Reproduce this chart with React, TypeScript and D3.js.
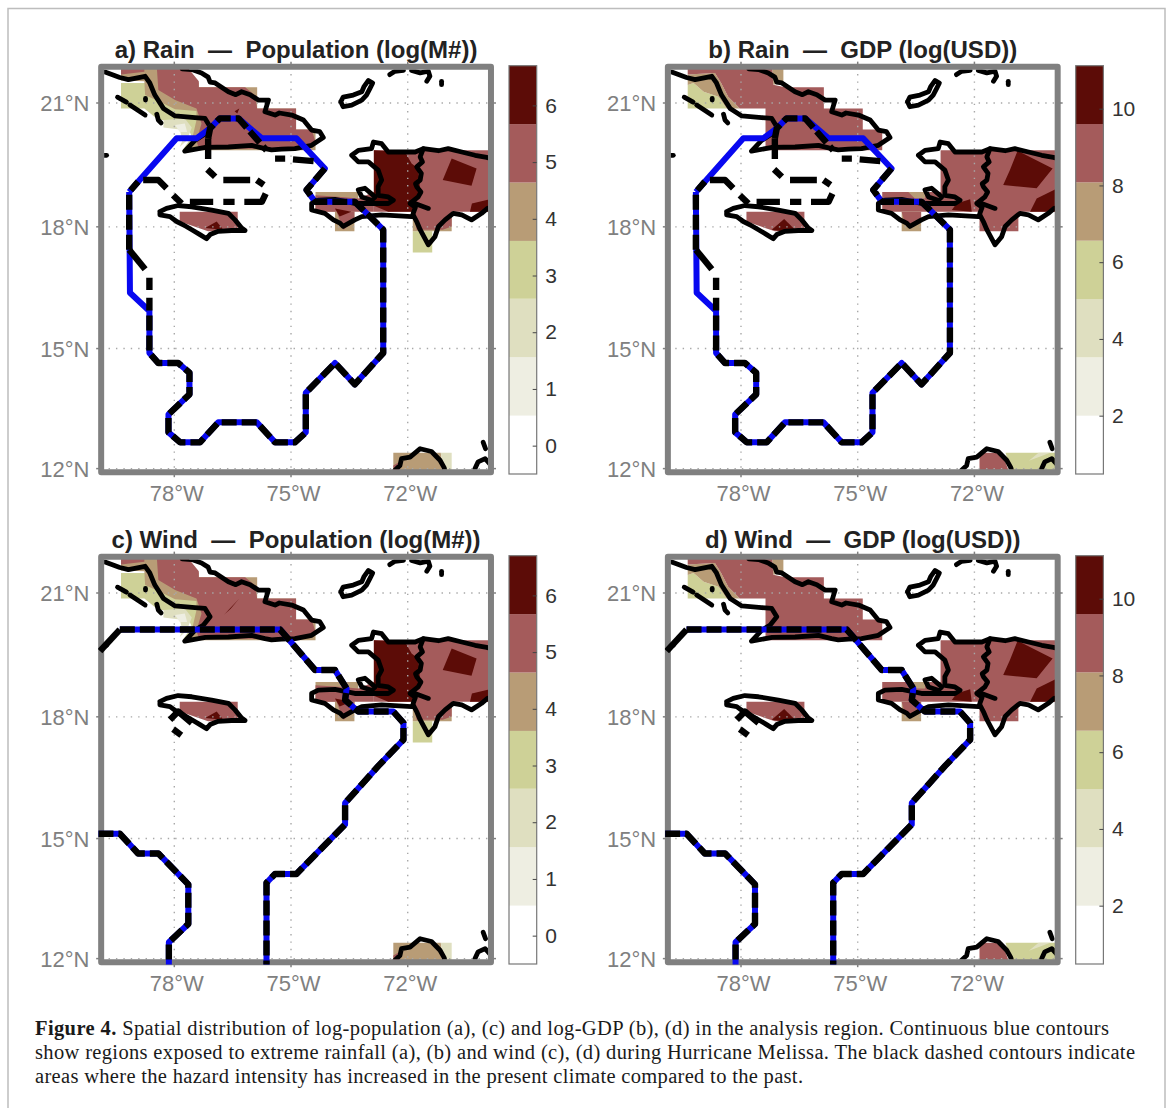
// App.tsx - four panel exposure maps with colorbars
import React, { useEffect, useRef } from "react";
import * as d3 from "d3";

type Pt = [number, number];
type Band = [number, Pt[]];

const WIDTH = 1167;
const HEIGHT = 1108;

const lonTicks = [-78, -75, -72];
const latTicks = [21, 18, 15, 12];
const lonBounds = [-79.88, -69.86];
const latBounds = [11.91, 21.87];

const bandColors = ["#ffffff", "#eeeee2", "#dfdfc0", "#ced197", "#b89c76", "#a45b5b", "#5c0c07"];
const popLevels = [-0.5, 0.53, 1.56, 2.59, 3.61, 4.64, 5.67, 6.7];
const gdpLevels = [0.48, 2, 3.52, 5.04, 6.56, 8.08, 9.6, 11.12];
const popTicks = [0, 1, 2, 3, 4, 5, 6];
const gdpTicks = [2, 4, 6, 8, 10];

// coastlines, lon/lat
const cuba: Pt[] = [[-79.78,21.74],[-79.40,21.61],[-79.18,21.56],[-78.75,21.64],[-78.63,21.48],[-78.50,21.19],[-78.28,20.87],[-77.98,20.69],[-77.47,20.65],[-77.21,20.63],[-77.08,20.43],[-77.25,20.23],[-77.47,20.10],[-77.73,19.84],[-77.2,19.93],[-76.61,19.94],[-76.01,19.98],[-75.67,19.90],[-75.5,19.87],[-75.24,19.89],[-74.90,19.90],[-74.47,19.98],[-74.17,20.17],[-74.26,20.31],[-74.47,20.35],[-74.68,20.59],[-74.98,20.71],[-75.30,20.76],[-75.41,20.71],[-75.67,20.79],[-75.62,20.95],[-75.58,21.07],[-75.84,21.07],[-76.05,21.2],[-76.27,21.27],[-76.42,21.2],[-76.61,21.27],[-76.95,21.48],[-77.08,21.5],[-77.13,21.62],[-77.30,21.72],[-77.55,21.80],[-77.8,21.82]];
const jamaica: Pt[] = [[-78.37,18.37],[-78.20,18.45],[-77.90,18.52],[-77.55,18.49],[-77.04,18.41],[-76.61,18.33],[-76.44,18.17],[-76.27,17.97],[-76.18,17.91],[-76.53,17.91],[-76.87,17.89],[-77.08,17.81],[-77.17,17.71],[-77.34,17.81],[-77.55,17.93],[-77.77,18.05],[-77.94,18.13],[-78.11,18.25],[-78.37,18.29],[-78.37,18.37]];
const hispaniola: Pt[] = [[-69.7,19.62],[-69.97,19.69],[-70.27,19.74],[-70.61,19.82],[-70.96,19.90],[-71.21,19.85],[-71.60,19.90],[-71.81,19.82],[-72.50,19.82],[-72.67,20.02],[-72.88,20.06],[-72.93,19.90],[-73.27,19.86],[-73.44,19.74],[-73.27,19.58],[-73.01,19.58],[-72.76,19.38],[-72.67,19.14],[-72.76,18.98],[-72.76,18.77],[-72.50,18.73],[-72.37,18.65],[-72.50,18.57],[-73.36,18.57],[-73.87,18.67],[-74.30,18.65],[-74.47,18.57],[-74.47,18.41],[-74.13,18.33],[-73.91,18.17],[-73.74,18.09],[-73.66,18.01],[-73.36,18.17],[-73.18,18.25],[-72.67,18.29],[-71.90,18.25],[-71.86,18.29],[-71.77,18.13],[-71.68,17.93],[-71.47,17.56],[-71.30,17.76],[-71.21,18.01],[-71.04,18.17],[-70.83,18.33],[-70.61,18.29],[-70.36,18.17],[-70.10,18.33],[-69.95,18.45],[-69.7,18.5]];
const haitiBorder: Pt[] = [[-71.60,19.90],[-71.68,19.70],[-71.62,19.58],[-71.77,19.46],[-71.65,19.30],[-71.68,19.14],[-71.80,19.05],[-71.77,18.98],[-71.66,18.85],[-71.73,18.73],[-71.94,18.57],[-71.80,18.48],[-71.86,18.33]];
const enriquillo: Pt[] = [[-71.85,18.58],[-71.47,18.45]];
const gonave: Pt[] = [[-73.27,18.90],[-73.10,18.94],[-72.84,18.73],[-72.93,18.65],[-73.18,18.73],[-73.27,18.90]];
const inagua: Pt[] = [[-73.72,21.03],[-73.66,21.14],[-73.40,21.19],[-73.18,21.27],[-73.12,21.40],[-73.01,21.54],[-72.90,21.48],[-72.97,21.35],[-73.06,21.19],[-73.18,21.07],[-73.44,20.95],[-73.66,20.91],[-73.72,21.03]];
const caicos: Pt[] = [[-72.46,21.68],[-72.33,21.76],[-72.11,21.78]];
const turks: Pt[] = [[-71.90,21.78],[-71.68,21.72],[-71.47,21.76],[-71.43,21.64],[-71.51,21.52]];
const grandTurk: Pt[] = [[-71.13,21.52],[-71.13,21.44]];
const jardinesA: Pt[] = [[-79.46,21.14],[-79.23,21.02]];
const jardinesB: Pt[] = [[-79.14,20.95],[-78.75,20.71]];
const cayA: Pt[] = [[-78.74,21.11],[-78.74,21.07]];
const cayB: Pt[] = [[-78.45,20.73],[-78.41,20.59],[-78.34,20.52]];
const cayman: Pt[] = [[-79.80,19.74],[-79.74,19.74]];
const guajira: Pt[] = [[-72.33,11.96],[-72.20,12.08],[-72.16,12.25],[-71.94,12.29],[-71.68,12.50],[-71.39,12.43],[-71.17,12.21],[-71.06,12.02],[-71.03,11.85]];
const paraguana: Pt[] = [[-70.27,12.00],[-70.19,12.17],[-70.01,12.25],[-69.89,12.12]];
const aruba: Pt[] = [[-70.06,12.66],[-70.00,12.50]];
const coasts = [cuba, jamaica, hispaniola, haitiBorder, enriquillo, gonave, inagua, caicos, turks, grandTurk, jardinesA, jardinesB, cayA, cayB, cayman, guajira, paraguana, aruba];

// shaded bands: [band index, ring], painted in order
const popBands: Band[] = [
  [3, [[-79.37,21.48],[-79.37,20.87],[-78.77,20.87],[-78.41,20.59],[-77.73,20.59],[-77.55,20.19],[-77.79,19.86],[-77.37,19.86],[-77.37,20.87],[-78.28,21.19],[-78.75,21.48]]],
  [2, [[-78.28,20.59],[-77.73,20.63],[-77.55,20.41],[-77.68,20.10],[-77.86,19.94],[-77.79,20.10],[-77.86,20.36],[-78.28,20.41]]],
  [1, [[-77.98,20.47],[-77.73,20.51],[-77.67,20.3],[-77.86,20.3]]],
  [4, [[-79.37,22],[-77.79,22],[-77.37,21.48],[-77.37,21.38],[-75.87,21.38],[-75.87,20.87],[-74.87,20.87],[-74.87,20.36],[-74.37,20.36],[-74.37,19.86],[-77.73,19.86],[-77.55,20.10],[-77.43,20.59],[-77.43,20.81],[-77.98,20.85],[-78.28,20.99],[-78.75,21.19],[-78.77,21.52],[-79.37,21.54]]],
  [5, [[-79.37,22],[-78.77,22],[-78.77,21.75],[-79.37,21.68]]],
  [5, [[-78.46,22],[-77.79,22],[-77.37,21.52],[-77.37,21.38],[-76.18,21.38],[-75.93,21.19],[-75.87,20.87],[-74.87,20.87],[-74.87,20.36],[-74.47,20.36],[-74.37,20.06],[-74.82,19.90],[-77.37,19.90],[-77.43,20.10],[-77.30,20.51],[-77.43,20.87],[-77.98,21.07],[-78.41,21.31]]],
  [3, [[-71.87,17.89],[-71.37,17.89],[-71.37,17.37],[-71.87,17.37]]],
  [4, [[-71.87,18.37],[-70.87,18.37],[-70.87,17.89],[-71.87,17.89]]],
  [4, [[-74.37,18.85],[-73.27,18.85],[-73.27,18.69],[-73.37,18.37],[-74.37,18.37]]],
  [4, [[-73.87,18.37],[-73.37,18.37],[-73.37,17.89],[-73.87,17.89]]],
  [5, [[-72.87,19.86],[-69.8,19.86],[-69.8,18.37],[-70.87,18.37],[-70.87,18.01],[-71.10,17.93],[-71.77,17.93],[-71.87,18.37],[-72.87,18.37]]],
  [5, [[-74.37,18.77],[-73.70,18.73],[-73.27,18.69],[-72.87,18.85],[-72.87,18.37],[-74.37,18.37]]],
  [5, [[-73.83,18.37],[-73.37,18.37],[-73.37,18.13],[-73.65,17.93]]],
  [6, [[-72.87,19.86],[-72.07,19.82],[-71.90,19.54],[-71.73,19.42],[-71.68,18.9],[-71.87,18.37],[-72.50,18.37],[-73.01,18.57],[-72.87,18.81]]],
  [6, [[-70.87,19.66],[-70.23,19.42],[-70.36,19.0],[-71.10,19.14]]],
  [6, [[-70.40,18.37],[-70.35,18.57],[-69.8,18.69],[-69.8,18.37]]],
  [6, [[-73.87,18.45],[-73.45,18.37],[-73.75,18.25]]],
  [5, [[-77.86,18.37],[-76.37,18.37],[-76.37,17.93],[-76.87,17.89],[-77.13,17.89],[-77.86,18.13]]],
  [6, [[-77.21,17.97],[-76.91,18.13],[-76.74,17.93]]],
  [4, [[-72.37,12.40],[-71.15,12.40],[-71.06,11.8],[-72.37,11.8]]],
  [2, [[-71.15,12.40],[-70.87,12.40],[-70.87,11.8],[-71.06,11.8]]],
  [5, [[-72.37,12.08],[-72.20,12.17],[-72.20,11.8],[-72.37,11.8]]],
];
const streakRain: Band[] = [[6, [[-76.45,20.8],[-76.33,20.87],[-76.38,20.75]]]];
const streakWind: Band[] = [[6, [[-76.72,20.48],[-76.33,20.87],[-76.55,20.62]]]];

const gdpBands: Band[] = [
  [3, [[-79.37,21.43],[-79.37,20.87],[-78.37,20.87],[-78.58,21.15],[-78.96,21.27],[-79.22,21.48]]],
  [4, [[-79.37,21.68],[-78.67,21.72],[-78.51,21.48],[-78.33,21.15],[-78.03,20.87],[-78.37,20.87],[-78.58,21.15],[-78.96,21.27],[-79.22,21.48],[-79.37,21.43]]],
  [4, [[-77.21,22],[-76.91,22],[-76.91,21.48],[-77.17,21.44]]],
  [5, [[-79.37,22],[-77.21,22],[-77.17,21.44],[-76.87,21.38],[-75.87,21.38],[-75.87,20.87],[-74.87,20.87],[-74.87,20.36],[-74.37,20.36],[-74.37,19.86],[-77.37,19.86],[-77.37,20.87],[-78.03,20.87],[-78.33,21.15],[-78.51,21.48],[-78.67,21.72],[-79.37,21.68]]],
  [5, [[-72.87,19.86],[-69.8,19.86],[-69.8,18.37],[-70.87,18.37],[-70.87,17.89],[-71.87,17.89],[-71.87,18.37],[-74.37,18.37],[-74.37,18.85],[-72.87,18.85]]],
  [4, [[-73.70,18.85],[-73.27,18.85],[-73.27,18.69],[-73.53,18.69]]],
  [4, [[-73.87,18.37],[-73.37,18.37],[-73.37,17.89],[-73.87,17.89]]],
  [5, [[-73.87,18.37],[-73.37,18.37],[-73.37,18.13],[-73.78,18.05]]],
  [6, [[-70.89,19.85],[-69.99,19.42],[-70.40,18.94],[-71.26,19.02],[-71.09,19.38]]],
  [6, [[-69.8,18.97],[-69.8,18.37],[-70.57,18.37],[-70.40,18.69]]],
  [6, [[-72.58,18.41],[-72.46,18.57],[-72.11,18.67],[-72.07,18.37]]],
  [5, [[-77.86,18.37],[-76.37,18.37],[-76.37,17.93],[-76.87,17.89],[-77.13,17.89],[-77.86,18.13]]],
  [6, [[-77.21,17.93],[-76.89,18.19],[-76.61,17.93],[-76.95,17.89]]],
  [3, [[-71.2,12.4],[-69.8,12.4],[-69.8,11.8],[-71.03,11.8]]],
  [5, [[-71.87,12.40],[-71.3,12.4],[-71.06,11.8],[-71.87,11.8]]],
  [2, [[-70.6,12.2],[-70.05,12.4],[-70.35,12.4]]],
];

// exposed area outlines (blue)
const rainExposed: Pt[] = [[-79.16,18.85],[-78.93,19.10],[-77.94,20.15],[-77.43,20.15],[-77.08,20.39],[-76.83,20.63],[-76.35,20.63],[-75.75,20.15],[-74.86,20.15],[-74.13,19.42],[-74.60,18.90],[-74.38,18.61],[-73.36,18.61],[-73.10,18.37],[-72.63,17.93],[-72.63,14.89],[-73.36,14.11],[-73.87,14.64],[-74.62,13.90],[-74.62,12.91],[-74.90,12.66],[-75.41,12.66],[-75.88,13.16],[-76.87,13.16],[-77.34,12.66],[-77.85,12.66],[-78.15,12.91],[-78.15,13.36],[-77.61,13.86],[-77.61,14.40],[-77.90,14.64],[-78.41,14.64],[-78.64,14.89],[-78.64,15.93],[-79.14,16.38],[-79.16,18.85]];
const windExposedEast: Pt[] = [[-79.91,19.60],[-79.40,20.12],[-75.28,20.12],[-74.38,19.14],[-73.87,19.14],[-73.57,18.69],[-73.61,18.41],[-73.27,18.13],[-72.37,18.13],[-72.11,17.85],[-72.11,17.44],[-72.76,16.79],[-73.61,15.88],[-73.61,15.35],[-74.86,14.12],[-75.41,14.12],[-75.63,13.90],[-75.63,11.85]];
const windExposedWest: Pt[] = [[-79.95,15.12],[-79.40,15.12],[-78.93,14.63],[-78.41,14.63],[-77.64,13.86],[-77.64,12.87],[-78.14,12.41],[-78.14,11.85]];

// areas with increased intensity (black dashes): over the blue line, and on their own
const rainIncreaseOverBlue: Pt[][] = [
  [[-74.13,19.42],[-74.60,18.90],[-74.38,18.61],[-73.36,18.61],[-73.10,18.37],[-72.63,17.93],[-72.63,14.89],[-73.36,14.11],[-73.87,14.64],[-74.62,13.90],[-74.62,12.91],[-74.90,12.66],[-75.41,12.66],[-75.88,13.16],[-76.87,13.16],[-77.34,12.66],[-77.85,12.66],[-78.15,12.91],[-78.15,13.36],[-77.61,13.86],[-77.61,14.40],[-77.90,14.64],[-78.41,14.64],[-78.64,14.89],[-78.64,16.26]],
  [[-79.16,17.44],[-79.16,18.85],[-78.93,19.10]],
  [[-77.13,20.15],[-77.08,20.39],[-76.83,20.63],[-76.35,20.63],[-75.63,19.86]],
];
const rainIncreaseAlone: Pt[][] = [
  [[-78.64,16.45],[-78.64,16.75]],
  [[-78.75,16.96],[-79.16,17.44]],
  [[-78.80,19.14],[-78.41,19.14],[-78.20,18.94]],
  [[-78.03,18.77],[-77.81,18.57]],
  [[-77.60,18.61],[-77.00,18.61]],
  [[-76.74,18.61],[-76.45,18.61]],
  [[-76.20,18.61],[-75.75,18.61],[-75.65,18.81]],
  [[-75.70,19.02],[-75.88,19.14]],
  [[-76.05,19.14],[-76.74,19.14]],
  [[-76.95,19.22],[-77.15,19.40]],
  [[-77.13,19.65],[-77.13,20.15]],
  [[-75.41,19.66],[-75.15,19.66]],
  [[-74.95,19.64],[-74.42,19.60]],
];
const windIncreaseOverBlue: Pt[][] = [windExposedEast.slice(1), windExposedWest];
const windIncreaseAlone: Pt[][] = [
  windExposedEast.slice(0, 2),
  [[-78.11,17.93],[-77.90,18.13],[-77.55,17.85]],
  [[-78.03,17.70],[-77.82,17.55]],
];

const bandLayers = (pop: boolean, rain: boolean): Band[] =>
  pop ? popBands.concat(rain ? streakRain : streakWind) : gdpBands;

const panels = [
  { title: "a) Rain — Population (log(M#))", pop: true, rain: true, dx: 0, dy: 0 },
  { title: "b) Rain — GDP (log(USD))", pop: false, rain: true, dx: 566.7, dy: 0 },
  { title: "c) Wind — Population (log(M#))", pop: true, rain: false, dx: 0, dy: 490 },
  { title: "d) Wind — GDP (log(USD))", pop: false, rain: false, dx: 566.7, dy: 490 },
];

const captionLines = [
  { bold: "Figure 4.", text: " Spatial distribution of log-population (a), (c) and log-GDP (b), (d) in the analysis region. Continuous blue contours", len: 1074 },
  { bold: "", text: "show regions exposed to extreme rainfall (a), (b) and wind (c), (d) during Hurricane Melissa. The black dashed contours indicate", len: 1100 },
  { bold: "", text: "areas where the hazard intensity has increased in the present climate compared to the past.", len: 768 },
];

const App = () => {
  const ref = useRef<SVGSVGElement>(null);

  useEffect(() => {
    const svg = d3.select(ref.current);
    svg.selectAll("*").remove();

    svg.append("rect").attr("width", WIDTH).attr("height", HEIGHT).attr("fill", "#fff");
    svg
      .append("rect")
      .attr("x", 8)
      .attr("y", 8.5)
      .attr("width", 1157)
      .attr("height", 1130)
      .attr("fill", "none")
      .attr("stroke", "#bdbdbd")
      .attr("stroke-width", 1.5);

    const projection = d3.geoMercator().scale(2229).center([-78, 21]).translate([174.3, 103]);
    const px = (lon: number) => projection([lon, 21])![0];
    const py = (lat: number) => projection([-78, lat])![1];
    const line = d3
      .line<Pt>()
      .x((d) => projection(d)![0])
      .y((d) => projection(d)![1]);

    const x0 = px(lonBounds[0]);
    const x1 = px(lonBounds[1]);
    const y0 = py(latBounds[1]);
    const y1 = py(latBounds[0]);

    const defs = svg.append("defs");
    const addClip = (id: string, pad: number) =>
      defs
        .append("clipPath")
        .attr("id", id)
        .append("rect")
        .attr("x", x0 - pad)
        .attr("y", y0 - pad)
        .attr("width", x1 - x0 + pad * 2)
        .attr("height", y1 - y0 + pad * 2);
    addClip("clip-frame", 0);
    addClip("clip-inner", -3);
    addClip("clip-outer", 3);

    panels.forEach((p) => {
      const g = svg.append("g").attr("transform", `translate(${p.dx},${p.dy})`);

      g.append("text")
        .attr("x", (x0 + x1) / 2)
        .attr("y", 58)
        .attr("text-anchor", "middle")
        .attr("font-family", "'Liberation Sans', Arial, sans-serif")
        .attr("font-weight", "bold")
        .attr("font-size", 24)
        .attr("fill", "#222")
        .attr("xml:space", "preserve")
        .text(p.title.replace("—", " — "));

      // shaded bands
      g.append("g")
        .attr("clip-path", "url(#clip-frame)")
        .selectAll("path")
        .data(bandLayers(p.pop, p.rain))
        .join("path")
        .attr("d", (d) => line(d[1]) + "Z")
        .attr("fill", (d) => bandColors[d[0]]);

      // grid
      const grid = g.append("g").attr("stroke", "#a8a8a8").attr("stroke-width", 1.4).attr("stroke-dasharray", "1.4,6");
      lonTicks.forEach((lon) => {
        grid.append("line").attr("x1", px(lon)).attr("x2", px(lon)).attr("y1", y0).attr("y2", y1);
      });
      latTicks.forEach((lat) => {
        grid.append("line").attr("x1", x0).attr("x2", x1).attr("y1", py(lat)).attr("y2", py(lat));
      });

      // frame with its small tick bumps
      g.append("rect")
        .attr("x", x0)
        .attr("y", y0)
        .attr("width", x1 - x0)
        .attr("height", y1 - y0)
        .attr("fill", "none")
        .attr("stroke", "#808080")
        .attr("stroke-width", 6)
        .attr("stroke-linejoin", "round");
      const bumps = g.append("g").attr("stroke", "#808080").attr("stroke-width", 1.5);
      latTicks.forEach((lat) => {
        bumps.append("line").attr("x1", x0 - 5).attr("x2", x0).attr("y1", py(lat)).attr("y2", py(lat));
        bumps.append("line").attr("x1", x1).attr("x2", x1 + 5).attr("y1", py(lat)).attr("y2", py(lat));
      });
      lonTicks.forEach((lon) => {
        bumps.append("line").attr("x1", px(lon)).attr("x2", px(lon)).attr("y1", y0 - 5).attr("y2", y0);
        bumps.append("line").attr("x1", px(lon)).attr("x2", px(lon)).attr("y1", y1).attr("y2", y1 + 5);
      });

      // coast
      g.append("g")
        .attr("clip-path", "url(#clip-inner)")
        .selectAll("path")
        .data(coasts)
        .join("path")
        .attr("d", (d) => line(d))
        .attr("fill", "none")
        .attr("stroke", "#000")
        .attr("stroke-width", 4.8)
        .attr("stroke-linejoin", "round")
        .attr("stroke-linecap", "round");

      // hazard contours
      const hazard = g.append("g").attr("clip-path", "url(#clip-outer)").attr("fill", "none").attr("stroke-linejoin", "round");
      const exposed = p.rain ? [rainExposed] : [windExposedEast.slice(1), windExposedWest];
      hazard
        .selectAll("path.blue")
        .data(exposed)
        .join("path")
        .attr("class", "blue")
        .attr("d", (d) => line(d))
        .attr("stroke", "#0808f0")
        .attr("stroke-width", 6);
      hazard
        .selectAll("path.over")
        .data(p.rain ? rainIncreaseOverBlue : windIncreaseOverBlue)
        .join("path")
        .attr("class", "over")
        .attr("d", (d) => line(d))
        .attr("stroke", "#000")
        .attr("stroke-width", 6.4)
        .attr("stroke-dasharray", "15,5");
      hazard
        .selectAll("path.alone")
        .data(p.rain ? rainIncreaseAlone : windIncreaseAlone)
        .join("path")
        .attr("class", "alone")
        .attr("d", (d) => line(d))
        .attr("stroke", "#000")
        .attr("stroke-width", 6.4);

      // axis labels
      const labels = g.append("g").attr("font-family", "'Liberation Sans', Arial, sans-serif").attr("font-size", 22).attr("fill", "#808080");
      lonTicks.forEach((lon) => {
        labels
          .append("text")
          .attr("x", px(lon) + 2.5)
          .attr("y", 500.5)
          .attr("text-anchor", "middle")
          .text(`${Math.abs(lon)}°W`);
      });
      latTicks.forEach((lat) => {
        labels
          .append("text")
          .attr("x", 89.5)
          .attr("y", py(lat) + 8)
          .attr("text-anchor", "end")
          .text(`${lat}°N`);
      });

      // colorbar
      const levels = p.pop ? popLevels : gdpLevels;
      const barX = 509;
      const barW = 27.7;
      const barScale = d3
        .scaleLinear()
        .domain([levels[0], levels[levels.length - 1]])
        .range([474, 65.7]);
      const bar = g.append("g");
      bar
        .selectAll("rect.cell")
        .data(d3.pairs(levels))
        .join("rect")
        .attr("class", "cell")
        .attr("x", barX)
        .attr("width", barW)
        .attr("y", (d) => barScale(d[1]))
        .attr("height", (d) => barScale(d[0]) - barScale(d[1]))
        .attr("fill", (_, i) => bandColors[i]);
      bar
        .append("rect")
        .attr("x", barX)
        .attr("y", 65.7)
        .attr("width", barW)
        .attr("height", 474 - 65.7)
        .attr("fill", "none")
        .attr("stroke", "#777")
        .attr("stroke-width", 1.2);
      const axis = bar
        .append("g")
        .attr("transform", `translate(${barX + barW},0)`)
        .call(
          d3
            .axisRight(barScale)
            .tickValues(p.pop ? popTicks : gdpTicks)
            .tickSize(-4)
            .tickPadding(8.5)
            .tickFormat(d3.format("d"))
        );
      axis.select(".domain").remove();
      axis.selectAll("line").attr("stroke", "#444").attr("stroke-width", 1);
      axis
        .selectAll("text")
        .attr("font-family", "'Liberation Sans', Arial, sans-serif")
        .attr("font-size", 21)
        .attr("fill", "#333");
    });

    // caption
    captionLines.forEach((c, i) => {
      const t = svg
        .append("text")
        .attr("x", 35)
        .attr("y", 1035 + i * 24)
        .attr("font-family", "'Liberation Serif', serif")
        .attr("font-size", 20.5)
        .attr("fill", "#1a1a1a")
        .attr("textLength", c.len)
        .attr("lengthAdjust", "spacing")
        .attr("xml:space", "preserve");
      if (c.bold) t.append("tspan").attr("font-weight", "bold").text(c.bold);
      t.append("tspan").text(c.text);
    });
  }, []);

  return <svg ref={ref} width={WIDTH} height={HEIGHT} style={{ position: "absolute", left: 0, top: 0 }} />;
};

export default App;
